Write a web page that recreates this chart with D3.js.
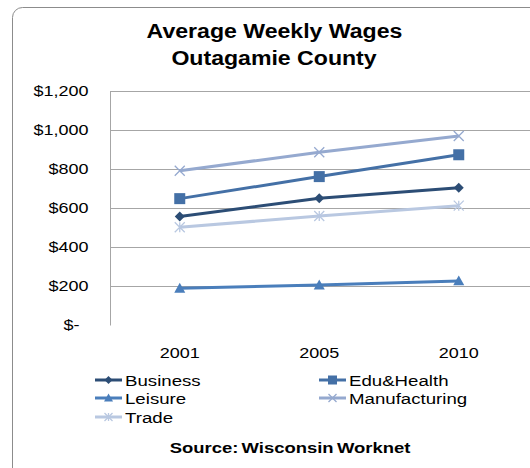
<!DOCTYPE html>
<html>
<head>
<meta charset="utf-8">
<script src="https://cdn.jsdelivr.net/npm/d3@7"></script>
<style>
  body { margin: 0; background: #fff; }
  svg { display: block; font-family: "Liberation Sans", Arial, sans-serif; }
</style>
</head>
<body>
<div id="chart"></div>
<script>
// data
const YEARS = ["2001", "2005", "2010"];
const SERIES_NAMES = ["Business", "Edu&Health", "Leisure", "Manufacturing", "Trade"];
const BUSINESS = [556, 650, 704];
const EDU_HEALTH = [648, 761, 873];
const LEISURE = [188, 205, 226];
const MANUFACTURING = [791, 886, 969];
const TRADE = [501, 559, 612];
const Y_TICKS = [0, 200, 400, 600, 800, 1000, 1200];

const FRAME_WIDTH = 530;
const FRAME_HEIGHT = 468;
const PLOT = {left: 110, right: 528.5, top: 91, bottom: 325};

// the original image is stretched sideways, so the text is too
const TEXT_STRETCH = 1.2;

const COLORS = ["#2c4d75", "#4470a6", "#4a7ebb", "#95a9cf", "#b9c8e1"];
const SHAPES = ["diamond", "square", "triangle", "x", "star"];

const seriesData = [BUSINESS, EDU_HEALTH, LEISURE, MANUFACTURING, TRADE];
const series = SERIES_NAMES.map((name, i) => ({
  name: name, values: seriesData[i], color: COLORS[i], shape: SHAPES[i]
}));

const svg = d3.select("#chart")
  .append("svg")
    .attr("width", FRAME_WIDTH)
    .attr("height", FRAME_HEIGHT);

// helper: text that is stretched horizontally around its anchor point
function addText(parent, x, y, str, size, anchor, weight, sx) {
  const g = parent.append("g")
    .attr("transform", "translate(" + x + "," + y + ") scale(" + sx + ",1)");
  return g.append("text")
    .attr("text-anchor", anchor)
    .attr("font-size", size + "px")
    .attr("font-weight", weight)
    .text(str);
}

// outer chart frame (rounded, runs off right/bottom)
svg.append("rect")
  .attr("x", 12.5).attr("y", 7.5)
  .attr("width", 540).attr("height", 480)
  .attr("rx", 10).attr("ry", 10)
  .attr("fill", "#fff")
  .attr("stroke", "#8c8c8c")
  .attr("stroke-width", 1);

// title
addText(svg, 274.5, 37.5, "Average Weekly Wages", 21, "middle", "bold", 1.1);
addText(svg, 274, 65, "Outagamie County", 21, "middle", "bold", 1.1);

// scales
const xScale = d3.scaleBand()
  .domain(YEARS)
  .range([PLOT.left, PLOT.right]);

const yScale = d3.scaleLinear()
  .domain([0, 1200])
  .range([PLOT.bottom, PLOT.top]);

// gridlines
svg.append("g")
  .selectAll("line")
  .data(Y_TICKS.filter(d => d > 0))
  .join("line")
    .attr("x1", PLOT.left).attr("x2", PLOT.right + 5)
    .attr("y1", d => Math.round(yScale(d)) + 0.5)
    .attr("y2", d => Math.round(yScale(d)) + 0.5)
    .attr("stroke", "#a6a6a6")
    .attr("stroke-width", 1);

// y axis
const fmt = d3.format(",");
const yAxis = svg.append("g")
  .attr("transform", "translate(" + (PLOT.left + 0.5) + ",0)")
  .call(d3.axisLeft(yScale)
    .tickValues(Y_TICKS)
    .tickSize(0)
    .tickFormat(d => d === 0 ? "$-" : "$" + fmt(d)));
yAxis.select(".domain")
  .attr("stroke", "#a6a6a6")
  .attr("d", "M0," + PLOT.top + "V" + (PLOT.bottom + 0.5));
yAxis.selectAll(".tick text")
  .attr("x", 0)
  .attr("transform", d => "translate(" + (d === 0 ? -31 : -22) + ",0) scale(" + TEXT_STRETCH + ",1)")
  .attr("font-size", "15px")
  .attr("fill", "#000")
  .attr("font-family", "Liberation Sans, Arial, sans-serif");

// x axis labels
const xAxis = svg.append("g")
  .attr("transform", "translate(0," + PLOT.bottom + ")")
  .call(d3.axisBottom(xScale).tickSize(0));
xAxis.select(".domain").remove();
xAxis.selectAll(".tick text")
  .attr("y", 0)
  .attr("dy", 0)
  .attr("transform", "translate(0,33) scale(" + TEXT_STRETCH + ",1)")
  .attr("font-size", "15px")
  .attr("fill", "#000")
  .attr("font-family", "Liberation Sans, Arial, sans-serif");

// marker drawing
function drawMarker(g, shape, color, size) {
  const s = size;
  if (shape === "diamond") {
    g.append("path")
      .attr("d", "M0," + (-s) + "L" + s + ",0L0," + s + "L" + (-s) + ",0Z")
      .attr("fill", color);
  } else if (shape === "square") {
    g.append("rect")
      .attr("x", -s).attr("y", -s)
      .attr("width", 2 * s).attr("height", 2 * s)
      .attr("fill", color);
  } else if (shape === "triangle") {
    g.append("path")
      .attr("d", "M0," + (-s) + "L" + s + "," + (s * 0.8) + "L" + (-s) + "," + (s * 0.8) + "Z")
      .attr("fill", color);
  } else if (shape === "x") {
    g.append("path")
      .attr("d", "M" + (-s) + "," + (-s) + "L" + s + "," + s + "M" + (-s) + "," + s + "L" + s + "," + (-s))
      .attr("stroke", color).attr("stroke-width", 1.3).attr("fill", "none");
  } else if (shape === "star") {
    g.append("path")
      .attr("d", "M" + (-s) + "," + (-s) + "L" + s + "," + s + "M" + (-s) + "," + s + "L" + s + "," + (-s) +
                 "M0," + (-s) + "L0," + s)
      .attr("stroke", color).attr("stroke-width", 1.3).attr("fill", "none");
  }
}

const MARKER_SIZE = {diamond: 5, square: 5.5, triangle: 5.5, x: 5, star: 5};

const line = d3.line()
  .x((d, i) => xScale(YEARS[i]) + xScale.bandwidth() / 2)
  .y(d => yScale(d));

// draw series (lighter ones underneath)
const drawOrder = [4, 3, 2, 1, 0];
drawOrder.forEach(idx => {
  const s = series[idx];
  svg.append("path")
    .datum(s.values)
    .attr("d", line)
    .attr("fill", "none")
    .attr("stroke", s.color)
    .attr("stroke-width", 3)
    .attr("stroke-linejoin", "round");
  s.values.forEach((v, i) => {
    const g = svg.append("g")
      .attr("transform", "translate(" + (xScale(YEARS[i]) + xScale.bandwidth() / 2) + "," + yScale(v) + ")");
    drawMarker(g, s.shape, s.color, MARKER_SIZE[s.shape]);
  });
});

// legend
const LEGEND_POS = [
  {x: 95, y: 380}, {x: 319, y: 380},
  {x: 95, y: 398}, {x: 319, y: 398},
  {x: 95, y: 417}
];
series.forEach((s, i) => {
  const p = LEGEND_POS[i];
  const g = svg.append("g").attr("transform", "translate(" + p.x + "," + p.y + ")");
  g.append("line")
    .attr("x1", 0).attr("x2", 27)
    .attr("y1", 0).attr("y2", 0)
    .attr("stroke", s.color).attr("stroke-width", 3);
  const m = g.append("g").attr("transform", "translate(13.5,0)");
  drawMarker(m, s.shape, s.color, MARKER_SIZE[s.shape] - 1);
  addText(g, 30, 0, s.name, 15.3, "start", "normal", 1.22)
    .attr("dy", "0.36em");
});

// source note
addText(svg, 290, 453, "Source: Wisconsin Worknet", 15, "middle", "bold", 1.23)
  .attr("word-spacing", "-1.5px");
</script>
</body>
</html>
